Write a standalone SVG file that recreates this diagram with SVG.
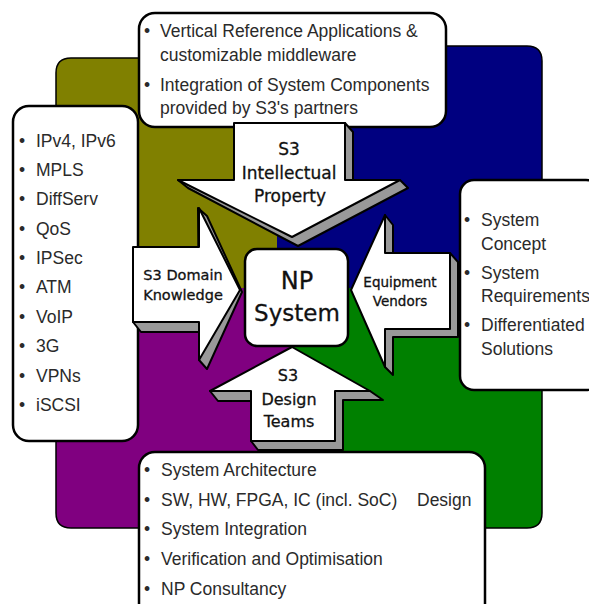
<svg xmlns="http://www.w3.org/2000/svg" width="589" height="604" viewBox="0 0 589 604">
<style>
.s{fill:#999;stroke:#000;stroke-width:2;stroke-linejoin:round}
.w{fill:#fff;stroke:#000;stroke-width:2;stroke-linejoin:round}
.b{fill:#fff;stroke:#000;stroke-width:2.5}
.t{font-family:"Liberation Sans",Arial,sans-serif;font-size:17.5px;fill:#2a2a2a}
.c{font-family:"DejaVu Sans",sans-serif;fill:#111;stroke:#111;stroke-width:.3;text-anchor:middle}
</style>
<g id="quadrants">
<path fill="#808000" d="M277 58H71Q56 58 56 73V288H277Z"/>
<path fill="#000080" d="M277 46H527Q542 46 542 61V288H277Z"/>
<path fill="#800080" d="M56 288H293V528H71Q56 528 56 513Z"/>
<path fill="#008000" d="M293 288H542V513Q542 528 527 528H293Z"/>
<path fill="none" stroke="#000" stroke-width="1.5" d="M277 46H527Q542 46 542 61V513Q542 528 527 528H71Q56 528 56 513V73Q56 58 71 58H277Z"/>
</g>
<g id="n-top"><rect class="b" x="139" y="13" width="307" height="114" rx="16"/>
<g class="t"><text x="144" y="37">•</text><text x="160" y="37">Vertical Reference Applications &amp;</text>
<text x="160" y="61">customizable middleware</text>
<text x="144" y="91">•</text><text x="160" y="91">Integration of System Components</text>
<text x="160" y="114">provided by S3's partners</text></g></g>
<g id="n-left"><rect class="b" x="13" y="106" width="125" height="335" rx="16"/>
<g class="t"><text x="19" y="147">•</text><text x="36" y="147">IPv4, IPv6</text>
<text x="19" y="176">•</text><text x="36" y="176">MPLS</text>
<text x="19" y="205">•</text><text x="36" y="205">DiffServ</text>
<text x="19" y="235">•</text><text x="36" y="235">QoS</text>
<text x="19" y="264">•</text><text x="36" y="264">IPSec</text>
<text x="19" y="293">•</text><text x="36" y="293">ATM</text>
<text x="19" y="323">•</text><text x="36" y="323">VoIP</text>
<text x="19" y="352">•</text><text x="36" y="352">3G</text>
<text x="19" y="382">•</text><text x="36" y="382">VPNs</text>
<text x="19" y="411">•</text><text x="36" y="411">iSCSI</text></g></g>
<g id="connectors">
<path class="s" d="M345 123L353 132V180H400L408 188L298 246L188 188L178 180H345Z"/>
<path class="w" d="M234 123H345V180H400L292 237L178 180H234Z"/>
<path class="s" d="M198 208L207 216L242 292L207 369L199 360V332H141L133 322H199Z"/>
<path class="w" d="M133 247H199V208L240 290L199 360V322H133Z"/>
<path class="s" d="M385 215L393 225V253H450L458 262V337H393V375L385 367Z"/>
<path class="w" d="M385 215V253H450V329H385V367L351 290Z"/>
<path class="s" d="M210 391L218 401H251V441L258 450H343V400H383L370 391Z"/>
<path class="w" d="M210 391L292 347L370 391H335V441H251V391Z"/>
</g>
<g id="n-right"><rect class="b" x="460" y="180" width="140" height="210" rx="14"/>
<g class="t"><text x="464" y="226">•</text><text x="481" y="226">System</text><text x="481" y="250">Concept</text>
<text x="464" y="279">•</text><text x="481" y="279">System</text><text x="481" y="302">Requirements</text>
<text x="464" y="331">•</text><text x="481" y="331">Differentiated</text><text x="481" y="355">Solutions</text></g></g>
<g id="n-bottom"><rect class="b" x="139" y="452" width="346" height="170" rx="16"/>
<g class="t"><text x="144" y="476">•</text><text x="161" y="476">System Architecture</text>
<text x="144" y="506">•</text><text x="161" y="506">SW, HW, FPGA, IC (incl. SoC)<tspan x="417">Design</tspan></text>
<text x="144" y="535">•</text><text x="161" y="535">System Integration</text>
<text x="144" y="565">•</text><text x="161" y="565">Verification and Optimisation</text>
<text x="144" y="595">•</text><text x="161" y="595">NP Consultancy</text></g></g>
<g id="n-centre"><rect class="b" x="245" y="249" width="103" height="97" rx="12"/>
<text class="c" x="297" y="289" style="font-size:24px">NP</text><text class="c" x="297" y="321" style="font-size:23px">System</text></g>
<g id="l-ip" style="font-size:17px"><text class="c" x="289" y="155">S3</text><text class="c" x="289" y="179">Intellectual</text><text class="c" x="290" y="202">Property</text></g>
<g id="l-dk" style="font-size:14.5px"><text class="c" x="183" y="280">S3 Domain</text><text class="c" x="183" y="300">Knowledge</text></g>
<g id="l-ev" style="font-size:13.5px"><text class="c" x="400" y="287">Equipment</text><text class="c" x="400" y="306">Vendors</text></g>
<g id="l-dt" style="font-size:16px"><text class="c" x="288" y="381">S3</text><text class="c" x="289" y="405">Design</text><text class="c" x="289" y="427">Teams</text></g>
</svg>
